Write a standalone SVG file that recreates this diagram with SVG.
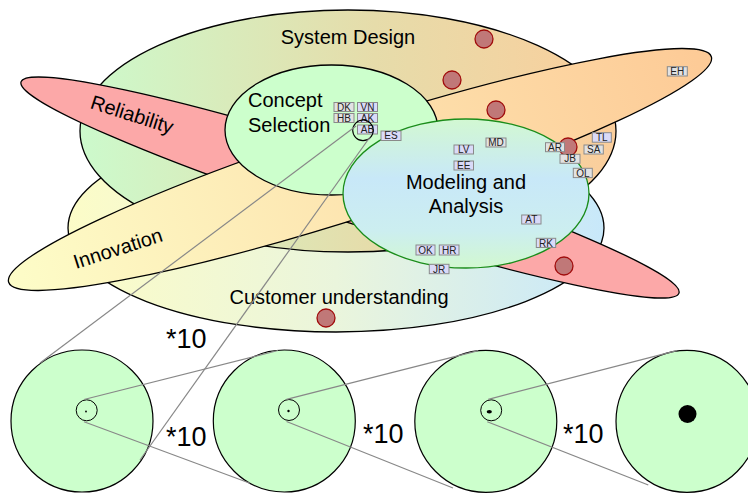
<svg xmlns="http://www.w3.org/2000/svg" width="748" height="493" viewBox="0 0 748 493">
<defs>
<linearGradient id="gCust" gradientUnits="userSpaceOnUse" x1="68" y1="0" x2="604" y2="0"><stop offset="0" stop-color="#fcfcc8"/><stop offset="0.5" stop-color="#eaf5dc"/><stop offset="1" stop-color="#c8e8fa"/></linearGradient>
<linearGradient id="gSys" gradientUnits="userSpaceOnUse" x1="80" y1="0" x2="616" y2="0"><stop offset="0" stop-color="#ccfacc"/><stop offset="0.55" stop-color="#e6dcaa"/><stop offset="1" stop-color="#fbce9c"/></linearGradient>
<linearGradient id="gInn" x1="0" y1="0" x2="1" y2="0"><stop offset="0" stop-color="#fdfdc8"/><stop offset="1" stop-color="#fdca96"/></linearGradient>
<linearGradient id="gMod" x1="0" y1="0" x2="0" y2="1"><stop offset="0" stop-color="#d2f8d2"/><stop offset="0.4" stop-color="#c8e8f8"/><stop offset="0.75" stop-color="#cceef0"/><stop offset="1" stop-color="#d2f8d0"/></linearGradient>
<style>
.area{stroke:#000;stroke-width:1.3}
.big{font-family:"Liberation Sans",Arial,sans-serif;font-size:20px;fill:#000}
.mag{font-family:"Liberation Sans",Arial,sans-serif;font-size:27px;fill:#000}
.dot{fill:#c07878;stroke:#a00c0c;stroke-width:1.3}
.lbl rect{stroke:#8a8a8a;stroke-width:1}
.lbl text{font-family:"Liberation Sans",Arial,sans-serif;font-size:10px;fill:#222;text-anchor:middle}
.gr{fill:#e2e2e2}
.lv{fill:#dadaf8}
.zl{stroke:#888;stroke-width:1.2;fill:none}
.zc{fill:#ccffcc;stroke:#000;stroke-width:1.2}
</style>
</defs>
<g id="customer">
<ellipse class="area" cx="336" cy="228" rx="268" ry="104" fill="url(#gCust)"/>
</g>
<g id="system-design">
<ellipse class="area" cx="348" cy="131" rx="268" ry="121" fill="url(#gSys)"/>
</g>
<g id="reliability">
<ellipse class="area" cx="350" cy="187.5" rx="345.5" ry="34" fill="#fca8a8" transform="rotate(17.8 350 187.5)"/>
</g>
<g id="innovation">
<ellipse class="area" cx="360" cy="169.5" rx="369" ry="46" fill="url(#gInn)" transform="rotate(-17.8 360 169.5)"/>
</g>
<g id="concept-selection">
<ellipse class="area" cx="331.5" cy="130" rx="106.5" ry="65" fill="#ccffcc"/>
</g>
<g id="modeling">
<ellipse cx="466" cy="193.5" rx="123" ry="74.5" fill="url(#gMod)" stroke="#1a8c1a" stroke-width="1.3"/>
</g>
<g id="dots">
<circle class="dot" cx="484" cy="39" r="9"/>
<circle class="dot" cx="452" cy="80" r="9"/>
<circle class="dot" cx="496" cy="110" r="9"/>
<circle class="dot" cx="568" cy="147" r="9"/>
<circle class="dot" cx="564" cy="266" r="9"/>
<circle class="dot" cx="326" cy="318" r="9"/>
</g>
<g id="area-labels">
<text class="big" x="348" y="44" text-anchor="middle">System Design</text>
<text class="big" x="248" y="107">Concept</text>
<text class="big" x="248" y="132">Selection</text>
<text class="big" x="466" y="189" text-anchor="middle">Modeling and</text>
<text class="big" x="466" y="212.5" text-anchor="middle">Analysis</text>
<text class="big" x="339" y="304" text-anchor="middle">Customer understanding</text>
<text class="big" x="130" y="121" text-anchor="middle" transform="rotate(17.8 130 121)">Reliability</text>
<text class="big" x="120" y="255" text-anchor="middle" transform="rotate(-17.8 120 255)">Innovation</text>
</g>
<g id="people" class="lbl">
<g><rect class="gr" x="334" y="102.5" width="20" height="9"/><text x="344" y="110.6">DK</text></g>
<g><rect class="lv" x="357.5" y="102.5" width="20" height="9"/><text x="367.5" y="110.6">VN</text></g>
<g><rect class="gr" x="334" y="113.5" width="20" height="9"/><text x="344" y="121.6">HB</text></g>
<g><rect class="lv" x="357.5" y="113.5" width="20" height="9"/><text x="367.5" y="121.6">AK</text></g>
<g><rect class="lv" x="357.5" y="125" width="20" height="9"/><text x="367.5" y="133.1">AB</text></g>
<g><rect class="lv" x="381" y="131" width="20" height="9.5"/><text x="391" y="139.4">ES</text></g>
<g><rect class="gr" x="486" y="138" width="20" height="9"/><text x="496" y="146.1">MD</text></g>
<g><rect class="lv" x="454" y="145" width="19.5" height="9"/><text x="463.7" y="153.1">LV</text></g>
<g><rect class="lv" x="454" y="161" width="19.5" height="9"/><text x="463.7" y="169.1">EE</text></g>
<g><rect class="gr" x="545.5" y="142.7" width="19" height="9"/><text x="555" y="150.8">AR</text></g>
<g><rect class="lv" x="592.3" y="132.7" width="19" height="9.5"/><text x="601.8" y="141">TL</text></g>
<g><rect class="gr" x="584" y="145" width="19.3" height="9"/><text x="593.7" y="153.1">SA</text></g>
<g><rect class="gr" x="560" y="154.3" width="20" height="9"/><text x="570" y="162.4">JB</text></g>
<g><rect class="gr" x="573.3" y="168.3" width="19" height="9.3"/><text x="582.8" y="176.6">OL</text></g>
<g><rect class="gr" x="667.3" y="66.7" width="20" height="9.3"/><text x="677.3" y="75">EH</text></g>
<g><rect class="lv" x="521.7" y="215" width="19.3" height="9"/><text x="531.3" y="223.1">AT</text></g>
<g><rect class="lv" x="536.3" y="238.3" width="19.4" height="9.2"/><text x="546" y="246.5">RK</text></g>
<g><rect class="lv" x="416" y="245" width="19" height="10"/><text x="425.5" y="253.6">OK</text></g>
<g><rect class="lv" x="439.3" y="245" width="19.7" height="10"/><text x="449.2" y="253.6">HR</text></g>
<g><rect class="lv" x="429.3" y="264.3" width="19.7" height="9.4"/><text x="439.2" y="272.6">JR</text></g>
</g>
<g id="zoom-circles">
<circle class="zc" cx="82" cy="421" r="71"/>
<circle class="zc" cx="284.3" cy="421" r="71"/>
<circle class="zc" cx="485.8" cy="421.3" r="71"/>
<circle class="zc" cx="687" cy="421.3" r="71"/>
<circle cx="86.7" cy="410.3" r="10.5" fill="none" stroke="#000" stroke-width="1"/>
<circle cx="86" cy="411.5" r="0.9" fill="#000"/>
<circle cx="289" cy="410" r="10.5" fill="none" stroke="#000" stroke-width="1"/>
<circle cx="288.5" cy="411" r="1.2" fill="#000"/>
<circle cx="491.2" cy="410.3" r="10.5" fill="none" stroke="#000" stroke-width="1"/>
<ellipse cx="489.3" cy="411.7" rx="2.6" ry="1.8" fill="#000"/>
<circle cx="687.5" cy="414" r="9" fill="#000"/>
<circle cx="363" cy="130.3" r="10.3" fill="none" stroke="#000" stroke-width="1.1"/>
</g>
<g id="connectors">
<line class="zl" x1="356" y1="126" x2="40" y2="363"/>
<line class="zl" x1="370" y1="137" x2="140" y2="460"/>
<line class="zl" x1="84" y1="399.5" x2="278" y2="350.5"/>
<line class="zl" x1="84" y1="421.7" x2="250" y2="483.3"/>
<line class="zl" x1="286.5" y1="399.3" x2="478.3" y2="350.7"/>
<line class="zl" x1="286.5" y1="421.5" x2="453" y2="488"/>
<line class="zl" x1="488.3" y1="399.3" x2="676.7" y2="350.7"/>
<line class="zl" x1="487.3" y1="421.7" x2="648.3" y2="485"/>
</g>
<g id="scale-labels">
<text class="mag" x="166" y="348">*10</text>
<text class="mag" x="166" y="446">*10</text>
<text class="mag" x="363" y="443">*10</text>
<text class="mag" x="563" y="443">*10</text>
</g>
</svg>
